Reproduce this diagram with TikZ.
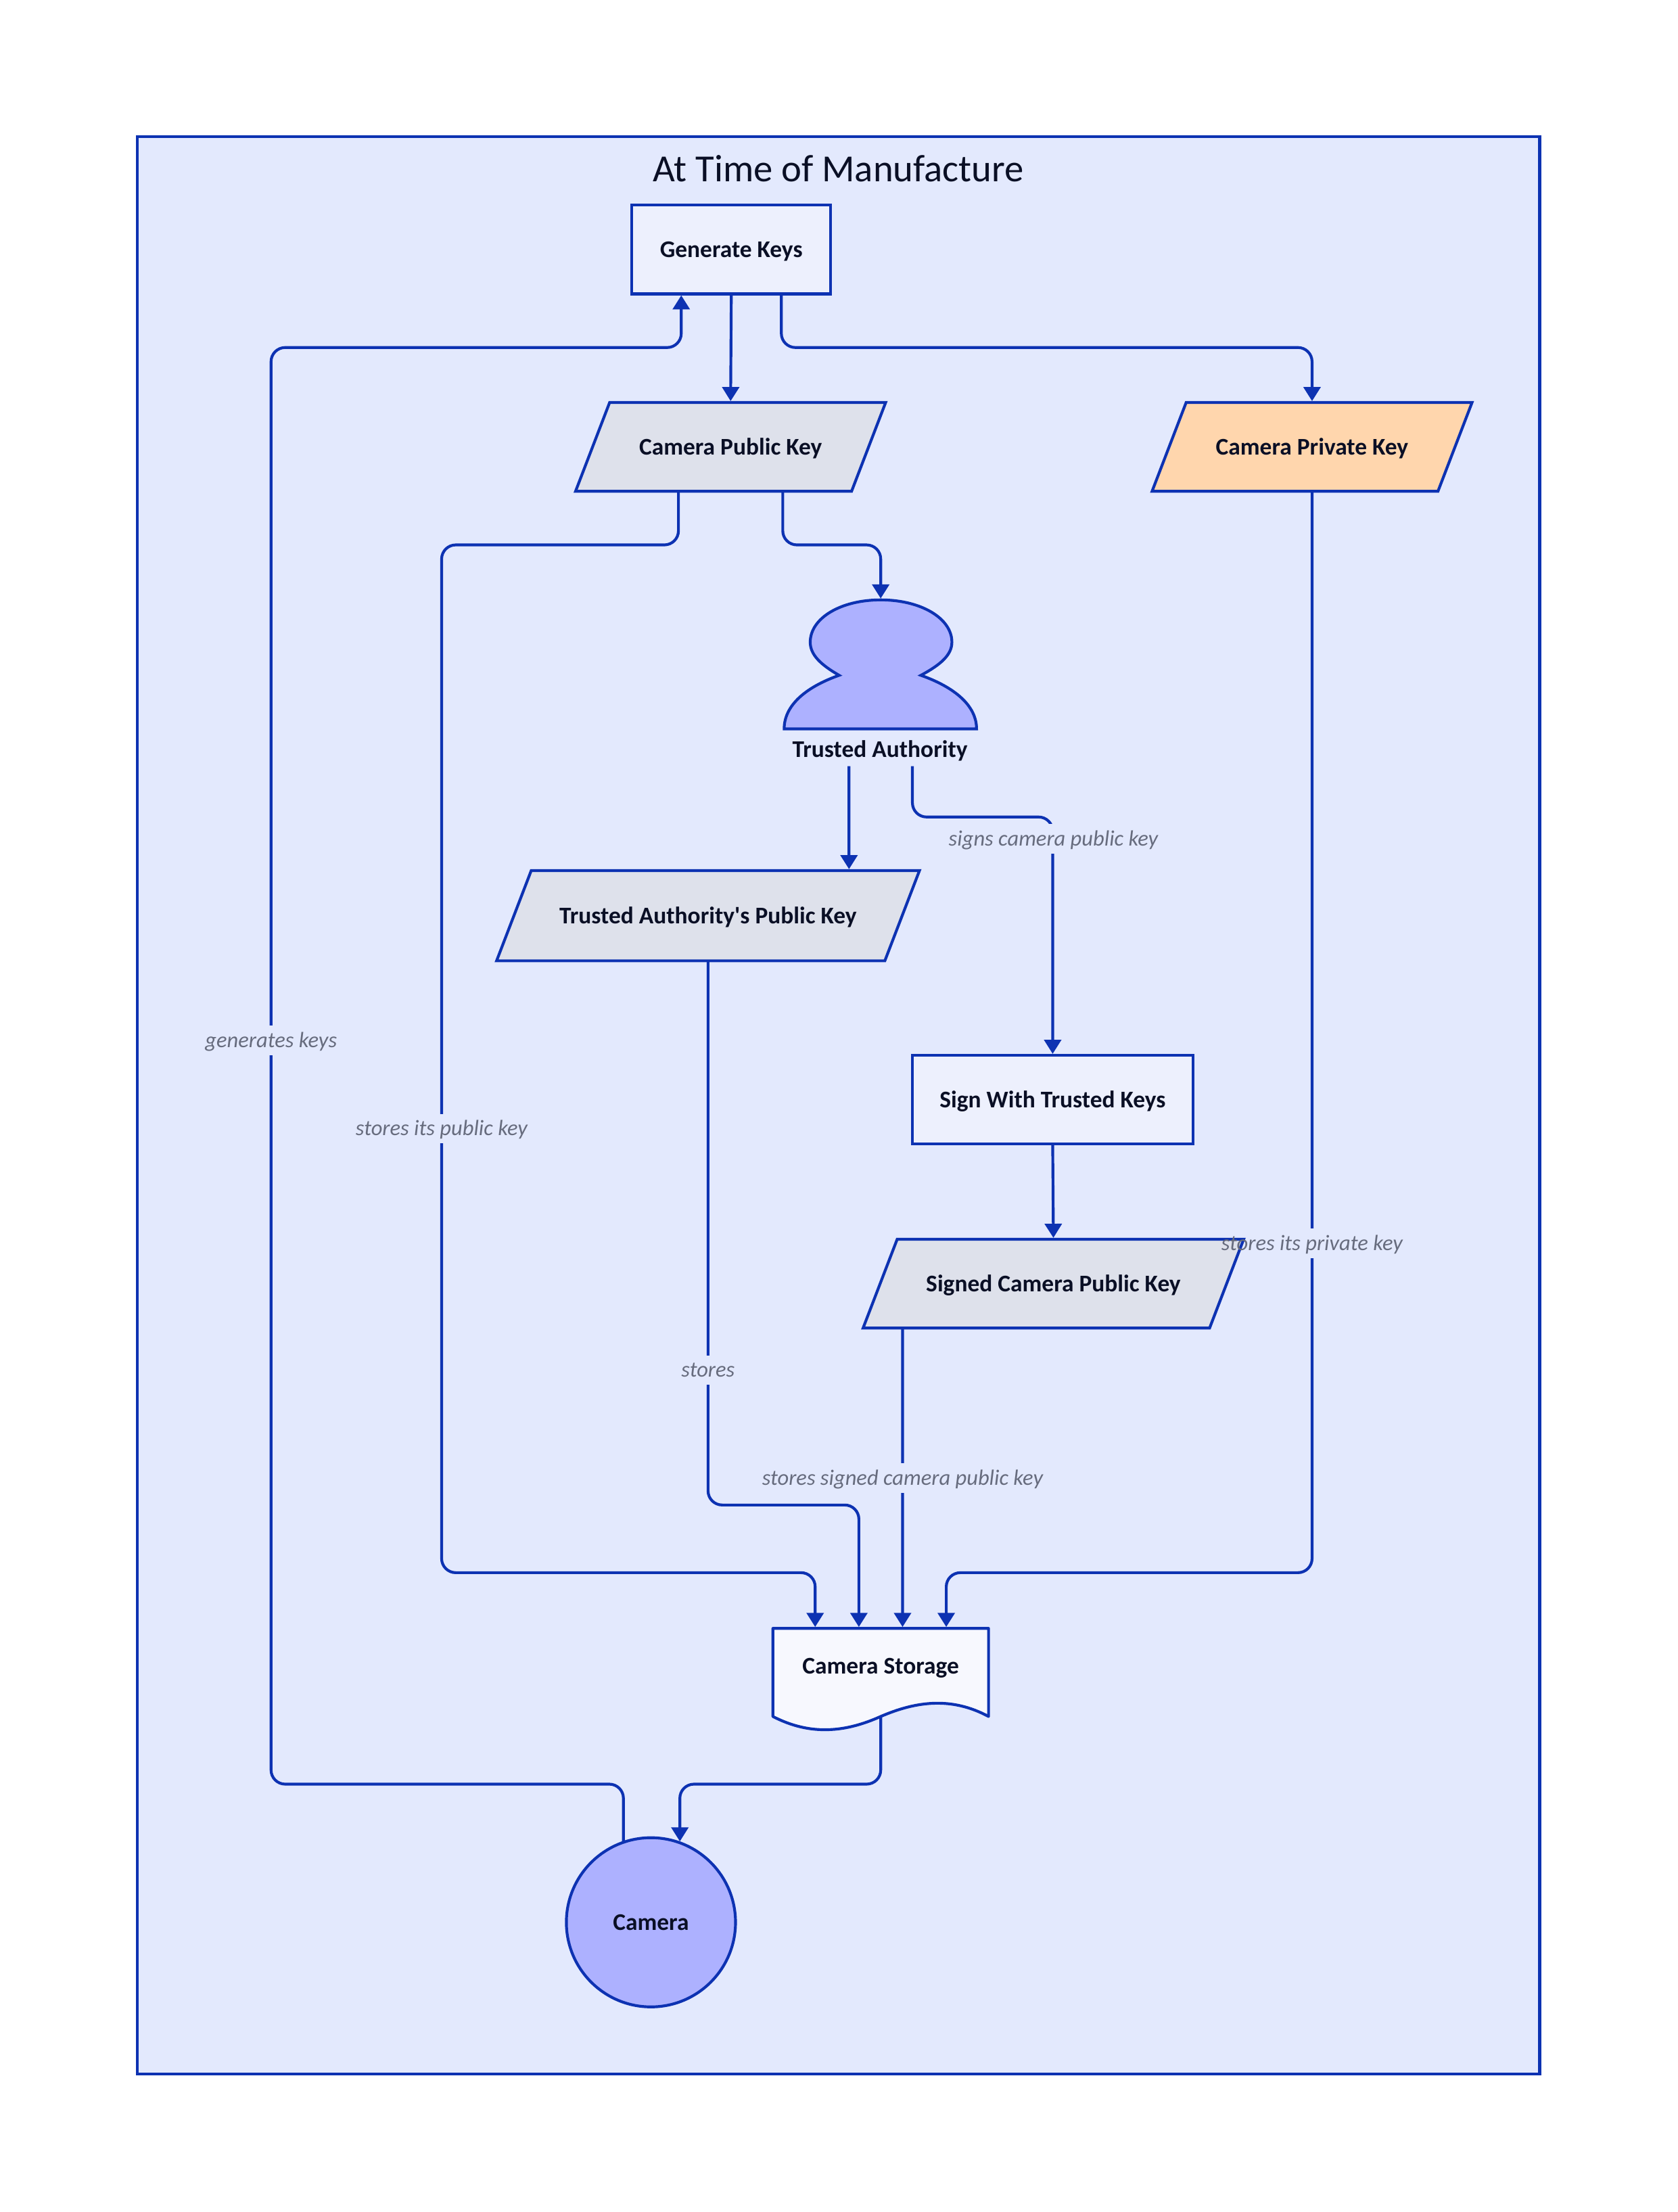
\documentclass[tikz,border=0pt]{standalone}
\usepackage{fontspec}
\setmainfont{Carlito}
\usetikzlibrary{arrows.meta,shapes.geometric,backgrounds}
\definecolor{inkblue}{HTML}{0D32B2}
\definecolor{inktext}{HTML}{0A0F25}
\definecolor{inkgray}{HTML}{676C7E}
\definecolor{framebg}{HTML}{E3E9FD}
\definecolor{procbg}{HTML}{EDF0FD}
\definecolor{docbg}{HTML}{F7F8FE}
\definecolor{pubbg}{HTML}{DEE1EB}
\definecolor{privbg}{HTML}{FFD6AD}
\definecolor{actorbg}{HTML}{ADB1FF}
\newcommand{\strokew}{2pt}
\tikzset{
	boxtext/.style = {font=\bfseries\fontsize{17}{20}\selectfont, text=inktext, inner sep=0pt, outer sep=0pt,
		text height=15pt, text depth=3.5pt},
	procbox/.style = {boxtext, rectangle, draw=inkblue, line width=\strokew, fill=procbg},
	keybox/.style = {boxtext, trapezium, trapezium left angle=69, trapezium right angle=111,
		trapezium stretches body=true, draw=inkblue, line width=\strokew, fill=pubbg, inner ysep=22.25pt},
	link/.style = {draw=inkblue, line width=\strokew, rounded corners=10pt,
		-{Triangle[width=12pt,length=10pt]}, shorten >=1pt},
	edgelabel/.style = {font=\itshape\fontsize{15.6}{19}\selectfont, text=inkgray, inner sep=0pt,
		text height=13pt, text depth=3pt, minimum height=20.5pt},
}
\begin{document}
\begin{tikzpicture}[x=1pt,y=-1pt]
	%\draw[help lines] (0,0) grid (1190,1569);
	\useasboundingbox (-0.3,-0.5) rectangle (1189.7,1568.5);
	\node[font=\fontsize{27.2}{32}\selectfont, text=inktext, inner sep=0pt] (title) at (594.5,119.3) {At Time of Manufacture};
	\node[procbox, minimum width=141pt, minimum height=63pt] (genkeys) at (518.5,176.5) {Generate Keys};
	\node[keybox, minimum width=220pt] (pubkey) at (518,316.5) {Camera Public Key};
	\node[keybox, minimum width=227pt, fill=privbg] (privkey) at (930.5,316.5) {Camera Private Key};
	\node[boxtext, minimum width=136pt, minimum height=24pt] (authority) at (624,531) {Trusted Authority};
	\node[keybox, minimum width=300pt, inner ysep=22.75pt] (authkey) at (502,649) {Trusted Authority\textquotesingle s Public Key};
	\node[procbox, minimum width=199pt, minimum height=63pt] (signkeys) at (746.5,779.5) {Sign With Trusted Keys};
	\node[keybox, minimum width=270pt] (signedkey) at (747,910) {Signed Camera Public Key};
	\node[boxtext, minimum width=153pt, minimum height=53pt] (storage) at (624.5,1181) {Camera Storage};
	\node[boxtext, circle, draw=inkblue, line width=\strokew, fill=actorbg, minimum size=120pt] (camera) at (461.5,1363) {Camera};
	\coordinate (head) at (624.5,425);
	% person above its label
	\draw[inkblue, line width=\strokew, fill=actorbg, line join=miter]
		(556,516.5) .. controls (556,500) and (571,487) .. (595,478.5)
		.. controls (582,471) and (574.5,464) .. (574.5,455)
		.. controls (574.5,438) and (596,425) .. (head)
		.. controls (653,425) and (675,438) .. (675,455)
		.. controls (675,464) and (667,471) .. (653,478.5)
		.. controls (677,487) and (692.5,500) .. (692.5,516.5) -- cycle;
	\node[edgelabel] (lblgen) at (192,737.5) {generates keys};
	\node[edgelabel] (lblpub) at (313,800) {stores its public key};
	\node[edgelabel] (lblsign) at (747,594.5) {signs camera public key};
	\node[edgelabel] (lblpriv) at (930.5,881.3) {stores its private key};
	\node[edgelabel] (lblauth) at (502,971.3) {stores};
	\node[edgelabel] (lblsigned) at (640,1048) {stores signed camera public key};
	\begin{pgfonlayer}{background}
		\node[draw=inkblue, line width=\strokew, fill=framebg, inner sep=0pt, minimum width=995pt, minimum height=1374pt] (frame) at (594.5,783.5) {};
		\draw[link] (genkeys.south) -- (pubkey.north);
		\draw[link] ([xshift=35.5pt]genkeys.south) |- (930.5,246) -- (privkey.north);
		\draw[link] ([xshift=37pt]pubkey.south) |- (624.5,386) -- (head);
		\draw[link] ([xshift=-37pt]pubkey.south) |- (313,386) |- (578,1115) -- ([xshift=-46.5pt]storage.north);
		\draw[link] (privkey.south) |- (671,1115) -- ([xshift=46.5pt]storage.north);
		\draw[link] ([xshift=-22pt]authority.south) -- ([xshift=100pt]authkey.north);
		\draw[link] ([xshift=23pt]authority.south) |- (746.5,579) -- (signkeys.north);
		\draw[link] (signkeys.south) -- (signedkey.north);
		\draw[link] ([xshift=-107pt]signedkey.south) -- ([xshift=15.5pt]storage.north);
		\draw[link] (authkey.south) |- (609,1067) -- ([xshift=-15.5pt]storage.north);
		\draw[link] (storage.south) |- (482,1265) -- (camera.70);
		\draw[link] (camera.109) |- (192,1265) |- (483,246) -- ([xshift=-35.5pt]genkeys.south);
		\foreach \lbl in {lblgen,lblpub,lblsign,lblpriv,lblauth,lblsigned}
			\fill[framebg] (\lbl.north west) rectangle (\lbl.south east);
		\draw[inkblue, line width=\strokew, fill=docbg, line join=round]
			(storage.north west) -- (storage.north east) -- (701,1217)
			.. controls (675,1203) and (650,1206) .. (624.5,1217)
			.. controls (600,1228) and (575,1231) .. (548,1217) -- cycle;
	\end{pgfonlayer}
\end{tikzpicture}
\end{document}
